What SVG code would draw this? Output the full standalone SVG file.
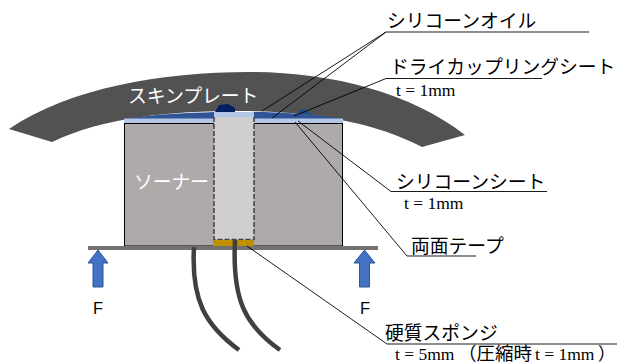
<svg xmlns="http://www.w3.org/2000/svg" width="617" height="363" viewBox="0 0 617 363">
<style>
.jp{font-family:"Noto Sans CJK JP","Liberation Sans",sans-serif;font-size:18.8px;font-weight:400;fill:#000}
.wh{fill:#fff}
.tm{font-family:"Liberation Serif","Noto Sans CJK JP",serif;font-size:17.5px;fill:#000}
.f{font-family:"Liberation Sans",sans-serif;font-size:16.500px;fill:#000}
.ld{fill:none;stroke:#000;stroke-width:.9}
.arr{fill:#4472c4;stroke:#2f5597;stroke-width:1}
.cab{fill:none;stroke:#404040;stroke-width:4.500}
</style>
<g id="skin-plate"><path d="M9 129C70 88 160 72 250 72C330 72 410 92 465 135L422 147C375 122 310 111 240 111C170 111 105 117 52 142Z" fill="#525252"/>
<text x="128" y="103" class="jp wh">スキンプレート</text></g>
<g id="sonar"><rect x="124.500" y="123.500" width="218" height="122.500" fill="#aeaaaa" stroke="#000" stroke-width="1"/>
<text x="134" y="189" class="jp wh">ソーナー</text></g>
<g id="nodules"><path d="M215 112L219 105L228 104L235 108V112Z" fill="#002060"/><path d="M297 114L300 110L305 109L311 114Z" fill="#1f4e8c"/></g>
<g id="dry-coupling-sheet"><path d="M124 119C155 114 190 113 214 112V119Z" fill="#2f5597"/><path d="M254 112C280 112 315 114 342 119H254Z" fill="#2f5597"/></g>
<g id="silicone-sheet"><rect x="124" y="118.500" width="219" height="4.500" fill="#b4c7e7"/><rect x="214" y="112" width="40" height="7" fill="#b4c7e7"/></g>
<g id="center-block"><rect x="214" y="117" width="40" height="122.500" fill="#d0cece"/><path d="M214 117V239.500H254V117" fill="none" stroke="#404040" stroke-width="1.500" stroke-dasharray="5 2"/></g>
<g id="hard-sponge"><rect x="213" y="240" width="41" height="6" fill="#bf9000"/></g>
<g id="base"><rect x="88" y="246" width="290" height="4" fill="#767171"/></g>
<g id="force-left"><path d="M98 250L108 263H103V287H93V263H88Z" class="arr"/><text x="93" y="314" class="f">F</text></g>
<g id="force-right"><path d="M364.500 250L375 263H369.500V287H359.500V263H354Z" class="arr"/><text x="360" y="314" class="f">F</text></g>
<g id="cables"><path d="M194 247C191 300 205 325 239 350" class="cab"/><path d="M235 240C232 300 245 325 280 350" class="cab"/></g>
<g id="connectors">
<path d="M262 111L386 32H589" class="ld"/><path d="M272 118L386 32" class="ld"/>
<path d="M294 116L386 78.500H542" class="ld"/>
<path d="M298 121L391 191.500H547" class="ld"/>
<path d="M295 122L407 256H476" class="ld"/>
<path d="M247 246L387 344H617" class="ld"/>
</g>
<g id="labels">
<text x="387" y="28" class="jp">シリコーンオイル</text>
<text x="390" y="74" class="jp">ドライカップリングシート</text>
<text x="396" y="96" class="tm">t = 1mm</text>
<text x="396" y="189" class="jp">シリコーンシート</text>
<text x="404" y="209" class="tm">t = 1mm</text>
<text x="411" y="253" class="jp">両面テープ</text>
<text x="385" y="340" class="jp">硬質スポンジ</text>
<text x="395" y="360" class="tm">t = 5mm<tspan x="458" style="font-size:18.500px">（圧縮時</tspan><tspan x="535">t = 1mm</tspan><tspan x="598">）</tspan></text>
</g>
</svg>
